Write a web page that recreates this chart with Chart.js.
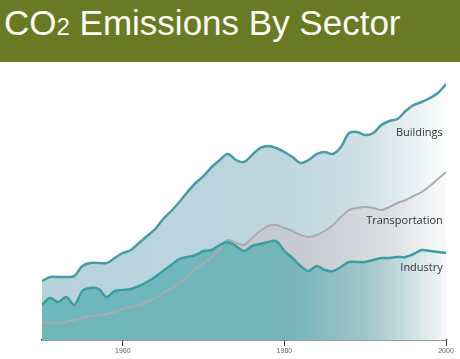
<!DOCTYPE html>
<html lang="en">
<head>
    <meta charset="UTF-8">
    <title>CO2 Emissions By Sector</title>
    <script src="https://cdn.jsdelivr.net/npm/chart.js"></script>
    <style>
        html, body { margin: 0; padding: 0; background: #fff; }
        body { width: 460px; height: 359px; position: relative; overflow: hidden; }
        .header {
            position: absolute; left: 0; top: 0; width: 460px; height: 62px;
            background: #6a7a24;
        }
        .header h1 {
            position: absolute; left: 4px; top: 5px; margin: 0;
            font: 35px/35px "Liberation Sans", Arial, sans-serif;
            color: #fbfbf4; font-weight: normal; white-space: nowrap;
        }
        .header h1 small { font-size: 24px; }
        .chart-box { position: absolute; left: 0; top: 62px; width: 460px; height: 297px; }
        canvas { display: block; }
    </style>
</head>
<body>
    <div class="header"><h1>CO<small>2</small> Emissions By Sector</h1></div>
    <div class="chart-box"><canvas id="myChart" width="460" height="297"></canvas></div>

    <script>
        // years 1950 - 2000 (relative units)
        const years = [];
        for (let y = 1950; y <= 2000; y++) years.push(y);

        const buildings = [
            59, 63, 63, 63, 64, 74, 77, 77, 77, 82,
            87, 90, 97, 104, 111, 121, 129, 138, 148, 157,
            164, 173, 180, 186, 180, 178, 185, 192, 194, 192,
            188, 183, 177, 180, 186, 188, 186, 193, 207, 208,
            205, 207, 215, 219, 221, 229, 235, 238, 242, 247,
            256
        ];
        const transportation = [
            18, 17, 17, 18, 20, 22, 24, 25, 26, 28,
            31, 33, 35, 38, 42, 47, 52, 57, 64, 71,
            77, 83, 91, 100, 97, 95, 102, 109, 114, 115,
            112, 109, 105, 103, 105, 109, 115, 123, 130, 132,
            133, 132, 130, 133, 137, 140, 144, 148, 154, 161,
            168
        ];
        const industry = [
            35, 42, 38, 43, 35, 49, 52, 51, 43, 49,
            50, 51, 54, 58, 63, 69, 75, 81, 83, 85,
            89, 90, 95, 98, 94, 89, 94, 96, 98, 99,
            89, 82, 74, 69, 74, 70, 69, 73, 78, 78,
            78, 80, 82, 82, 83, 83, 86, 90, 89, 88,
            87
        ];
        const tickYears = [1960, 1980, 2000];
        const seriesNames = ['Industry', 'Transportation', 'Buildings'];

        function toPoints(values) {
            return values.map((v, i) => ({ x: years[i], y: v }));
        }

        // horizontal gradient so the fills fade out to white on the right
        function fade(stops) {
            return function(context) {
                const area = context.chart.chartArea;
                if (!area) return stops[0][1];
                const g = context.chart.ctx.createLinearGradient(area.left, 0, area.right, 0);
                stops.forEach(s => g.addColorStop(s[0], s[1]));
                return g;
            };
        }

        // series names written next to the right end of each line
        const seriesLabels = {
            id: 'seriesLabels',
            afterDatasetsDraw(chart) {
                const ctx = chart.ctx;
                const x = chart.scales.x.getPixelForValue(1999.6);
                const yScale = chart.scales.y;
                ctx.save();
                ctx.font = '11px "Open Sans", "Liberation Sans", sans-serif';
                ctx.fillStyle = '#333';
                ctx.textAlign = 'right';
                ctx.textBaseline = 'middle';
                ctx.fillText(seriesNames[2], x, yScale.getPixelForValue(207));
                ctx.fillText(seriesNames[1], x, yScale.getPixelForValue(119));
                ctx.fillText(seriesNames[0], x, yScale.getPixelForValue(72));
                ctx.restore();
            }
        };

        const ctx = document.getElementById('myChart').getContext('2d');
        const chart = new Chart(ctx, {
            type: 'line',
            data: {
                datasets: [{
                    label: seriesNames[0],
                    data: toPoints(industry),
                    borderColor: '#3b9da2',
                    borderWidth: 2.5,
                    fill: 'origin',
                    backgroundColor: fade([
                        [0, 'rgba(88,178,182,0.78)'],
                        [0.6, 'rgba(92,174,178,0.78)'],
                        [0.8, 'rgba(140,190,194,0.72)'],
                        [1, 'rgba(245,248,248,0.85)']
                    ])
                }, {
                    label: seriesNames[1],
                    data: toPoints(transportation),
                    borderColor: '#a9abad',
                    borderWidth: 2,
                    fill: 'origin',
                    backgroundColor: fade([
                        [0, '#c4c9ce'],
                        [0.65, '#c6cbd0'],
                        [0.85, '#dadee1'],
                        [1, '#fafafa']
                    ])
                }, {
                    label: seriesNames[2],
                    data: toPoints(buildings),
                    borderColor: '#4a9aa6',
                    borderWidth: 2.5,
                    fill: 'origin',
                    backgroundColor: fade([
                        [0, '#b6d2db'],
                        [0.6, '#bfd5de'],
                        [0.8, '#cfe0e6'],
                        [0.93, '#ebf2f4'],
                        [1, '#fcfdfd']
                    ])
                }]
            },
            options: {
                responsive: false,
                animation: false,
                events: [],
                layout: { padding: { left: 42, right: 14, top: 8, bottom: 0 } },
                elements: {
                    point: { radius: 0 },
                    line: { tension: 0.35, capBezierPoints: true }
                },
                plugins: {
                    legend: { display: false },
                    tooltip: { enabled: false },
                    filler: { drawTime: 'beforeDatasetsDraw' }
                },
                scales: {
                    x: {
                        type: 'linear',
                        min: 1950,
                        max: 2000,
                        afterBuildTicks: axis => { axis.ticks = tickYears.map(v => ({ value: v })); },
                        afterFit: axis => { axis.height = 19; },
                        grid: { drawOnChartArea: false, drawTicks: true, tickLength: 6, color: '#333', lineWidth: 1 },
                        border: { display: true, color: '#333', width: 1.5 },
                        ticks: {
                            padding: 1,
                            color: '#666',
                            font: { family: '"Liberation Sans", sans-serif', size: 7 },
                            maxRotation: 0,
                            callback: v => String(v)
                        }
                    },
                    y: {
                        display: false,
                        min: 0,
                        max: 270
                    }
                }
            },
            plugins: [seriesLabels]
        });
    </script>
</body>
</html>
